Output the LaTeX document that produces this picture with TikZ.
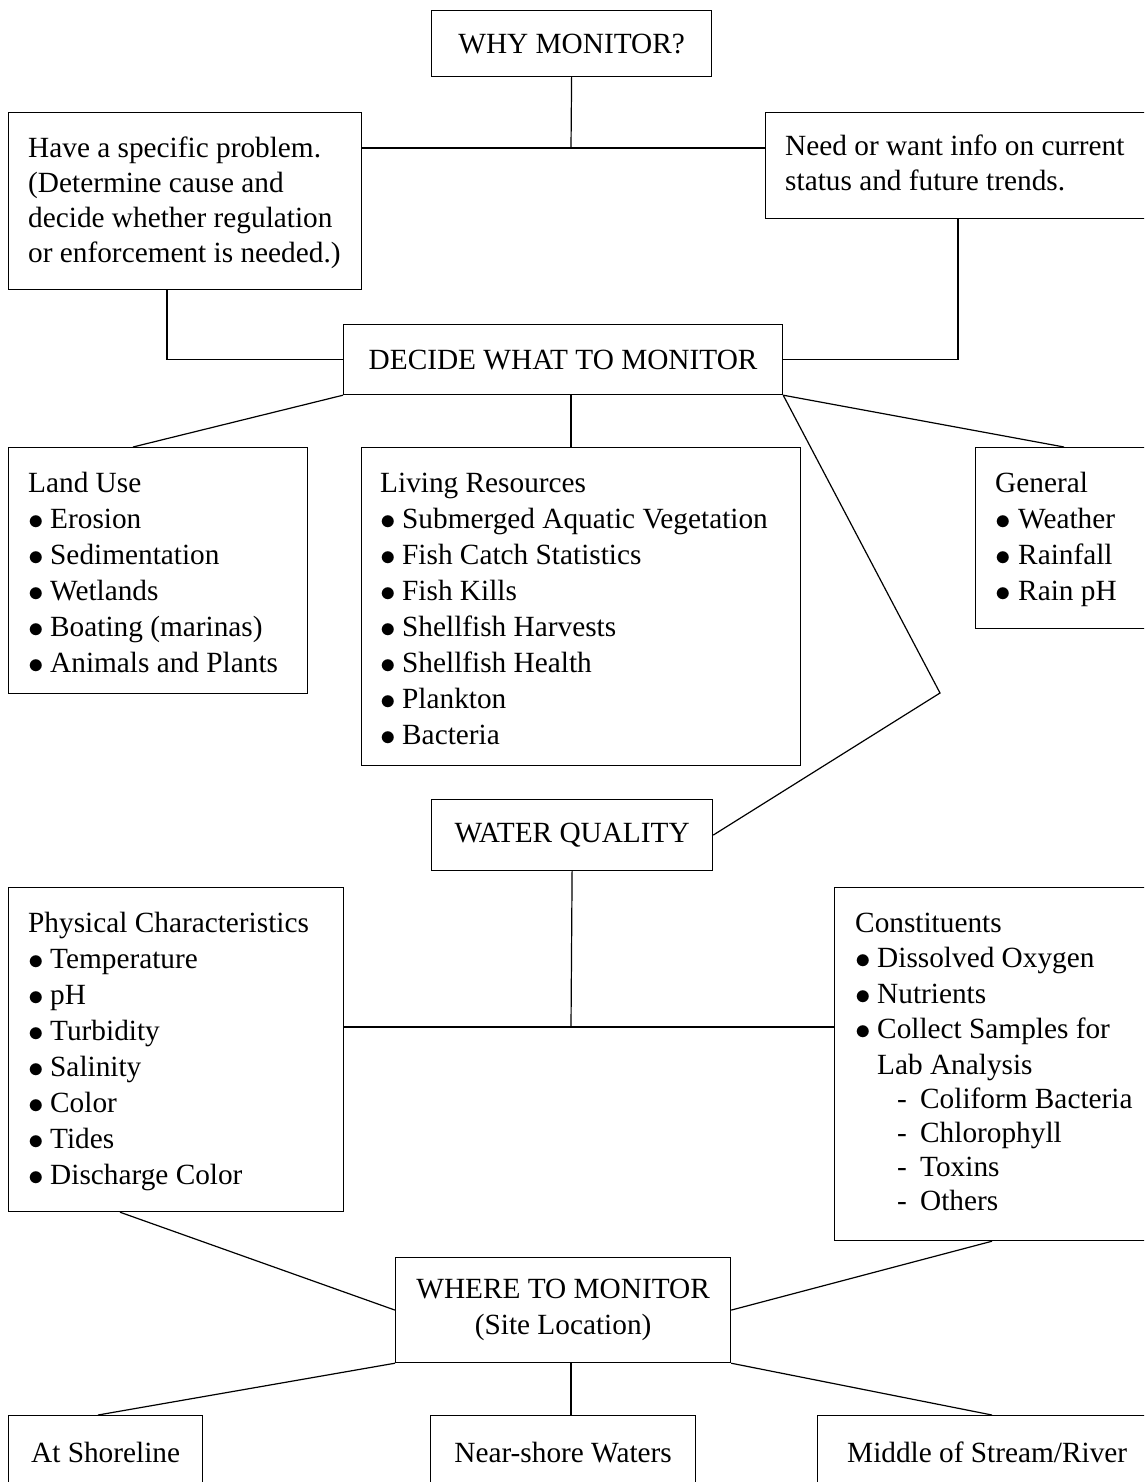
\documentclass[tikz,border=0pt]{standalone}
\usepackage{fontspec}
\usepackage{graphicx}
\setmainfont{Liberation Serif}
\usetikzlibrary{calc}
\newcommand{\bdot}{\raisebox{-1pt}{\scalebox{1.25}{$\bullet$}}}
\newcommand{\bl}{\makebox[22pt][l]{\bdot}}
\newcommand{\blw}{\makebox[23pt][l]{\bdot}}
\newcommand{\subdash}{\hspace*{42pt}\makebox[23pt][l]{-}}
\tikzset{
  box/.style={draw, line width=1.2pt, inner sep=0pt, anchor=north west},
  txt/.style={inner sep=0pt, anchor=north west, align=left},
  conn/.style={line width=1.2pt},
}
\begin{document}
\begin{tikzpicture}[x=1pt,y=-1pt,font=\fontsize{29.3}{36}\selectfont]
\useasboundingbox (0,0) rectangle (1144,1482);
\clip (0,0) rectangle (1144,1482);

% top level
\node[box, minimum width=280, minimum height=66] (why) at (431,10) {WHY MONITOR?};
\node[box, minimum width=353, minimum height=177] (prob) at (8,112) {};
\node[txt, font=\fontsize{29.3}{35}\selectfont] (probt) at (28,132.5)
  {\strut Have a specific problem.\\(Determine cause and\\decide whether regulation\\or enforcement is needed.)};
\node[box, minimum width=400, minimum height=106] (need) at (765,112) {};
\node[txt, font=\fontsize{29.3}{35}\selectfont] (needt) at (785,130.5)
  {\strut Need or want info on current\\status and future trends.};

\node[box, minimum width=439, minimum height=70] (decide) at (343,324) {DECIDE WHAT TO MONITOR};

% what to monitor
\node[box, minimum width=299, minimum height=246] (lu) at (8,447) {};
\node[txt] (lut) at (28,466.8)
  {\strut Land Use\\\bl Erosion\\\bl Sedimentation\\\bl Wetlands\\\bl Boating (marinas)\\\bl Animals and Plants};
\node[box, minimum width=439, minimum height=318] (liv) at (361,447) {};
\node[txt] (livt) at (380,466.8)
  {\strut Living Resources\\\bl Submerged Aquatic Vegetation\\\bl Fish Catch Statistics\\\bl Fish Kills\\\bl Shellfish Harvests\\\bl Shellfish Health\\\bl Plankton\\\bl Bacteria};
\node[box, minimum width=200, minimum height=181] (gen) at (975,447) {};
\node[txt] (gent) at (995,466.8)
  {\strut General\\\blw Weather\\\blw Rainfall\\\blw Rain pH};

\node[box, minimum width=281, minimum height=71] (wq) at (431,799) {WATER QUALITY};

% water quality
\node[box, minimum width=335, minimum height=324] (phys) at (8,887) {};
\node[txt] (physt) at (28,906.8)
  {\strut Physical Characteristics\\\bl Temperature\\\bl pH\\\bl Turbidity\\\bl Salinity\\\bl Color\\\bl Tides\\\bl Discharge Color};
\node[box, minimum width=340, minimum height=353] (cons) at (834,887) {};
\node[txt, font=\fontsize{29.3}{35.5}\selectfont] (const) at (855,907.2)
  {\strut Constituents\\\bl Dissolved Oxygen\\\bl Nutrients\\\bl Collect Samples for\\\hspace*{22pt}Lab Analysis\\[-1.5pt]\subdash Coliform Bacteria\\[-1.5pt]\subdash Chlorophyll\\[-1.5pt]\subdash Toxins\\[-1.5pt]\subdash Others};

% where
\node[box, minimum width=335, minimum height=105, align=center] (where) at (395,1257) {WHERE TO MONITOR\\(Site Location)};
\node[box, minimum width=194, minimum height=74] (shore) at (8,1415) {At Shoreline};
\node[box, minimum width=265, minimum height=74] (near) at (430,1415) {Near-shore Waters};
\node[box, minimum width=360, minimum height=74] (mid) at (817,1415) {};
\node[anchor=west, inner sep=0pt] (midt) at (847,1452) {Middle of Stream/River};

% connectors
\coordinate (j1) at (571,148);
\draw[conn] (why.south) -- (j1);
\draw[conn] (prob.east |- j1) -- (need.west |- j1);
\draw[conn] ($(prob.south west)+(159,0)$) |- (decide.west);
\draw[conn] ($(need.south west)+(193,0)$) |- (decide.east);
\draw[conn] (decide.south west) -- ($(lu.north west)+(125,0)$);
\draw[conn] ($(decide.south west)+(228,0)$) -- ($(liv.north west)+(210,0)$);
\draw[conn] (decide.south east) -- ($(gen.north west)+(89,0)$);
\coordinate (bend) at (940,693);
\draw[conn] (decide.south east) -- (bend) -- (wq.east);
\coordinate (j2) at (571,1027);
\draw[conn] (wq.south) -- (j2);
\draw[conn] (phys.east |- j2) -- (cons.west |- j2);
\draw[conn] ($(phys.south west)+(112,0)$) -- (where.west);
\draw[conn] ($(cons.south west)+(158,0)$) -- (where.east);
\draw[conn] (where.south west) -- ($(shore.north west)+(90,0)$);
\draw[conn] ($(where.south west)+(176,0)$) -- ($(near.north west)+(141,0)$);
\draw[conn] (where.south east) -- ($(mid.north west)+(175,0)$);
\end{tikzpicture}
\end{document}
